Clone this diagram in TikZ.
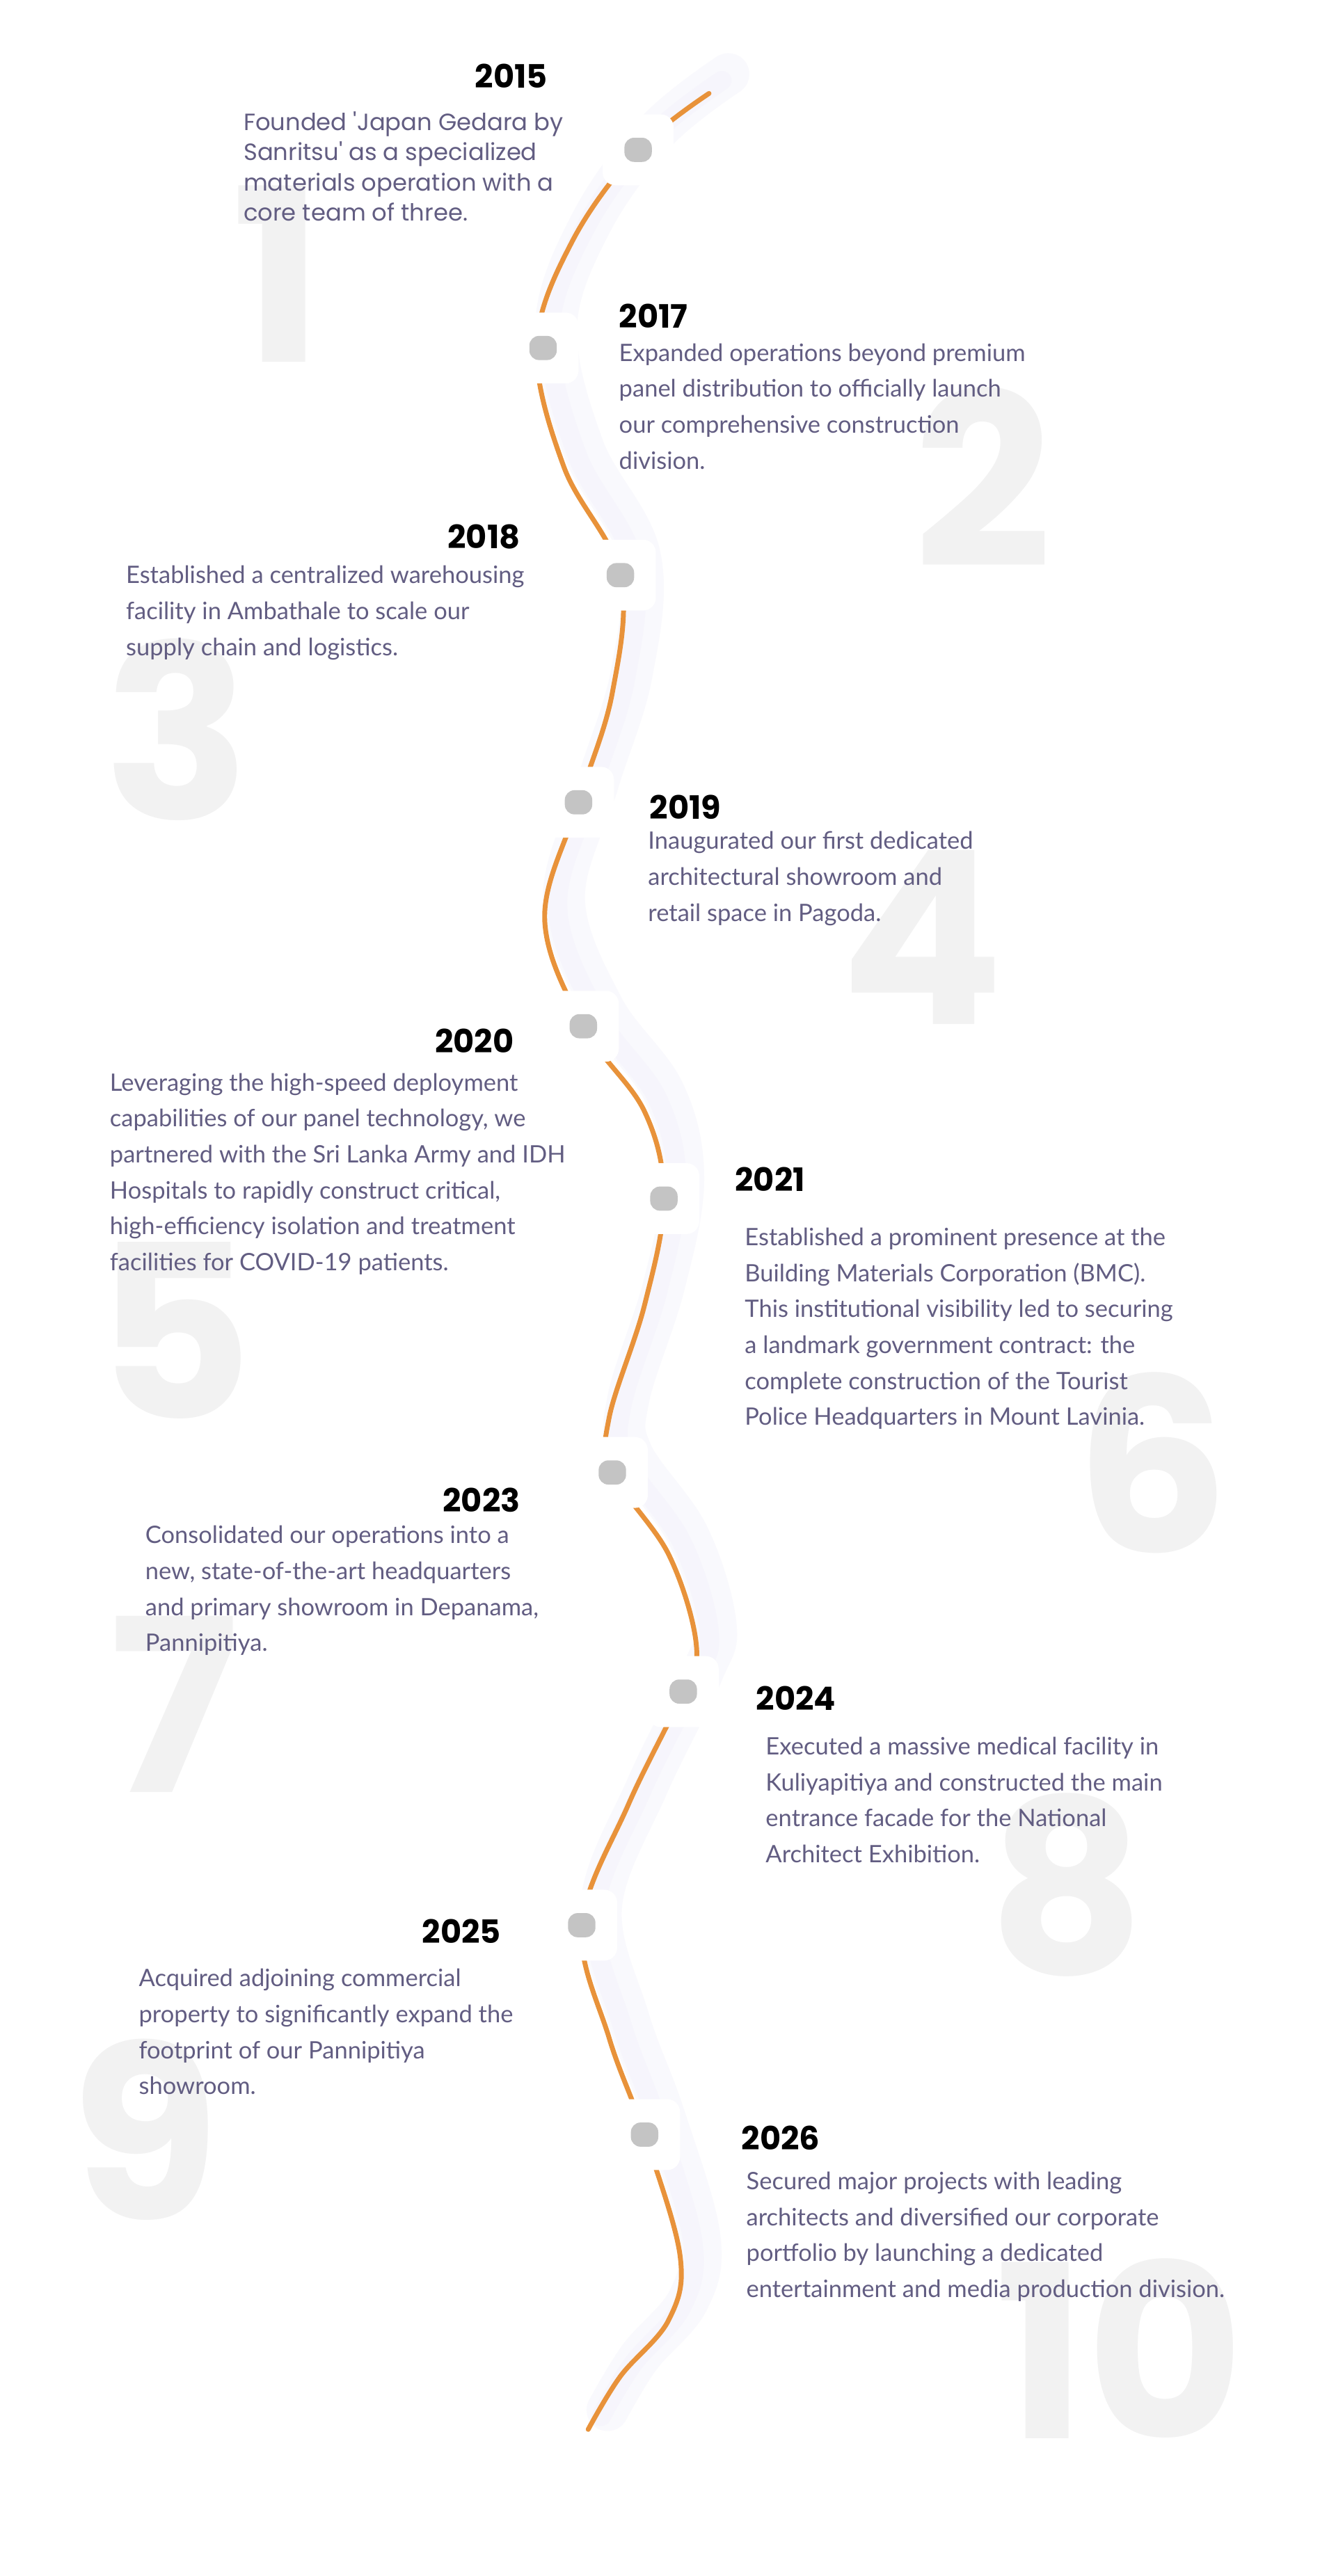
\documentclass[tikz,border=0pt]{standalone}
\usepackage{fontspec}
\setmainfont{Lato}
\newfontfamily\pop{Poppins}
\newfontfamily\popb{Poppins Bold}
\definecolor{txt}{HTML}{625D82}
\definecolor{big}{HTML}{F2F2F2}
\definecolor{org}{HTML}{E8923A}
\definecolor{dotc}{HTML}{C4C4C4}
\definecolor{shad}{HTML}{F6F5FC}
\begin{document}
\begin{tikzpicture}[x=1pt,y=-1pt,
  bignum/.style={text=big,font=\popb\fontsize{150}{150}\selectfont,inner sep=0},
  yr/.style={font=\popb\fontsize{20}{24}\selectfont,inner sep=0,text=black},
  body/.style={font=\fontsize{14.9}{22.3}\selectfont,text=txt,align=left,inner sep=0,anchor=north west},
  holder/.style={fill=white,rounded corners=8pt,minimum width=44pt,minimum height=44pt,inner sep=0},
  dotn/.style={fill=dotc,rounded corners=6pt,minimum width=17pt,minimum height=15pt,inner sep=0}]
\useasboundingbox (0,0) rectangle (829,1599);
\fill[white] (0,0) rectangle (829,1599);
% big numbers
\node[bignum] (n1) at (172,170) {1};
\node[bignum] (n2) at (610,296) {2};
\node[bignum] (n3) at (110,453) {3};
\node[bignum] (n4) at (572,582) {4};
\node[bignum] (n5) at (108,826) {5};
\node[bignum] (n6) at (715,908) {6};
\node[bignum] (n7) at (108,1058) {7};
\node[bignum] (n8) at (662,1170) {8};
\node[bignum] (n9) at (90,1322) {9};
\node[bignum] (n10) at (695,1458) {10};
% curve shadow and curve
\def\curvepts{(440,58) (396,93) (355,150) (333,215) (350,290) (385,357) (380,430) (359,498) (338,570) (362,637) (400,690) (412,744) (400,810) (378,880) (380,914) (415,965) (432,1020) (424,1050) (390,1120) (361,1195) (378,1265) (400,1325) (422,1400) (415,1440) (385,1475) (365,1508)}
\draw[shad,line width=26pt,line cap=round,opacity=0.6,xshift=12pt,yshift=12pt] plot[smooth,tension=0.6] coordinates {\curvepts};
\draw[shad,line width=12pt,line cap=round,opacity=0.8,xshift=8pt,yshift=8pt] plot[smooth,tension=0.6] coordinates {\curvepts};
\draw[org,line width=3pt,line cap=round] plot[smooth,tension=0.6] coordinates {\curvepts};
% dots
\foreach \i/\p in {1/{(396,93)},2/{(337,216)},3/{(385,357)},4/{(359,498)},5/{(362,637)},6/{(412,744)},7/{(380,914)},8/{(424,1050)},9/{(361,1195)},10/{(400,1325)}}{
  \node[holder] (h\i) at \p {};
  \node[dotn] (d\i) at \p {};
}
% years
\node[yr,anchor=east] (y1) at (340,47) {2015};
\node[yr,anchor=west] (y2) at (384,196) {2017};
\node[yr,anchor=east] (y3) at (323,333) {2018};
\node[yr,anchor=west] (y4) at (403,501) {2019};
\node[yr,anchor=east] (y5) at (319,646) {2020};
\node[yr,anchor=west] (y6) at (456,732) {2021};
\node[yr,anchor=east] (y7) at (323,931) {2023};
\node[yr,anchor=west] (y8) at (469,1054) {2024};
\node[yr,anchor=east] (y9) at (311,1199) {2025};
\node[yr,anchor=west] (y10) at (460,1327) {2026};
% bodies
\node[body,font=\pop\fontsize{14.6}{18.8}\selectfont] (t1) at (151,69) {Founded 'Japan Gedara by\\Sanritsu' as a specialized\\materials operation with a\\core team of three.};
\node[body] (t2) at (384,213) {Expanded operations beyond premium\\panel distribution to officially launch\\our comprehensive construction\\division.};
\node[body] (t3) at (78,351) {Established a centralized warehousing\\facility in Ambathale to scale our\\supply chain and logistics.};
\node[body] (t4) at (402,516) {Inaugurated our first dedicated\\architectural showroom and\\retail space in Pagoda.};
\node[body] (t5) at (68,666) {Leveraging the high-speed deployment\\capabilities of our panel technology, we\\partnered with the Sri Lanka Army and IDH\\Hospitals to rapidly construct critical,\\high-efficiency isolation and treatment\\facilities for COVID-19 patients.};
\node[body] (t6) at (462,762) {Established a prominent presence at the\\Building Materials Corporation (BMC).\\This institutional visibility led to securing\\a landmark government contract: the\\complete construction of the Tourist\\Police Headquarters in Mount Lavinia.};
\node[body] (t7) at (90,947) {Consolidated our operations into a\\new, state-of-the-art headquarters\\and primary showroom in Depanama,\\Pannipitiya.};
\node[body] (t8) at (475,1078) {Executed a massive medical facility in\\Kuliyapitiya and constructed the main\\entrance facade for the National\\Architect Exhibition.};
\node[body] (t9) at (86,1222) {Acquired adjoining commercial\\property to significantly expand the\\footprint of our Pannipitiya\\showroom.};
\node[body] (t10) at (463,1348) {Secured major projects with leading\\architects and diversified our corporate\\portfolio by launching a dedicated\\entertainment and media production division.};
\end{tikzpicture}
\end{document}
